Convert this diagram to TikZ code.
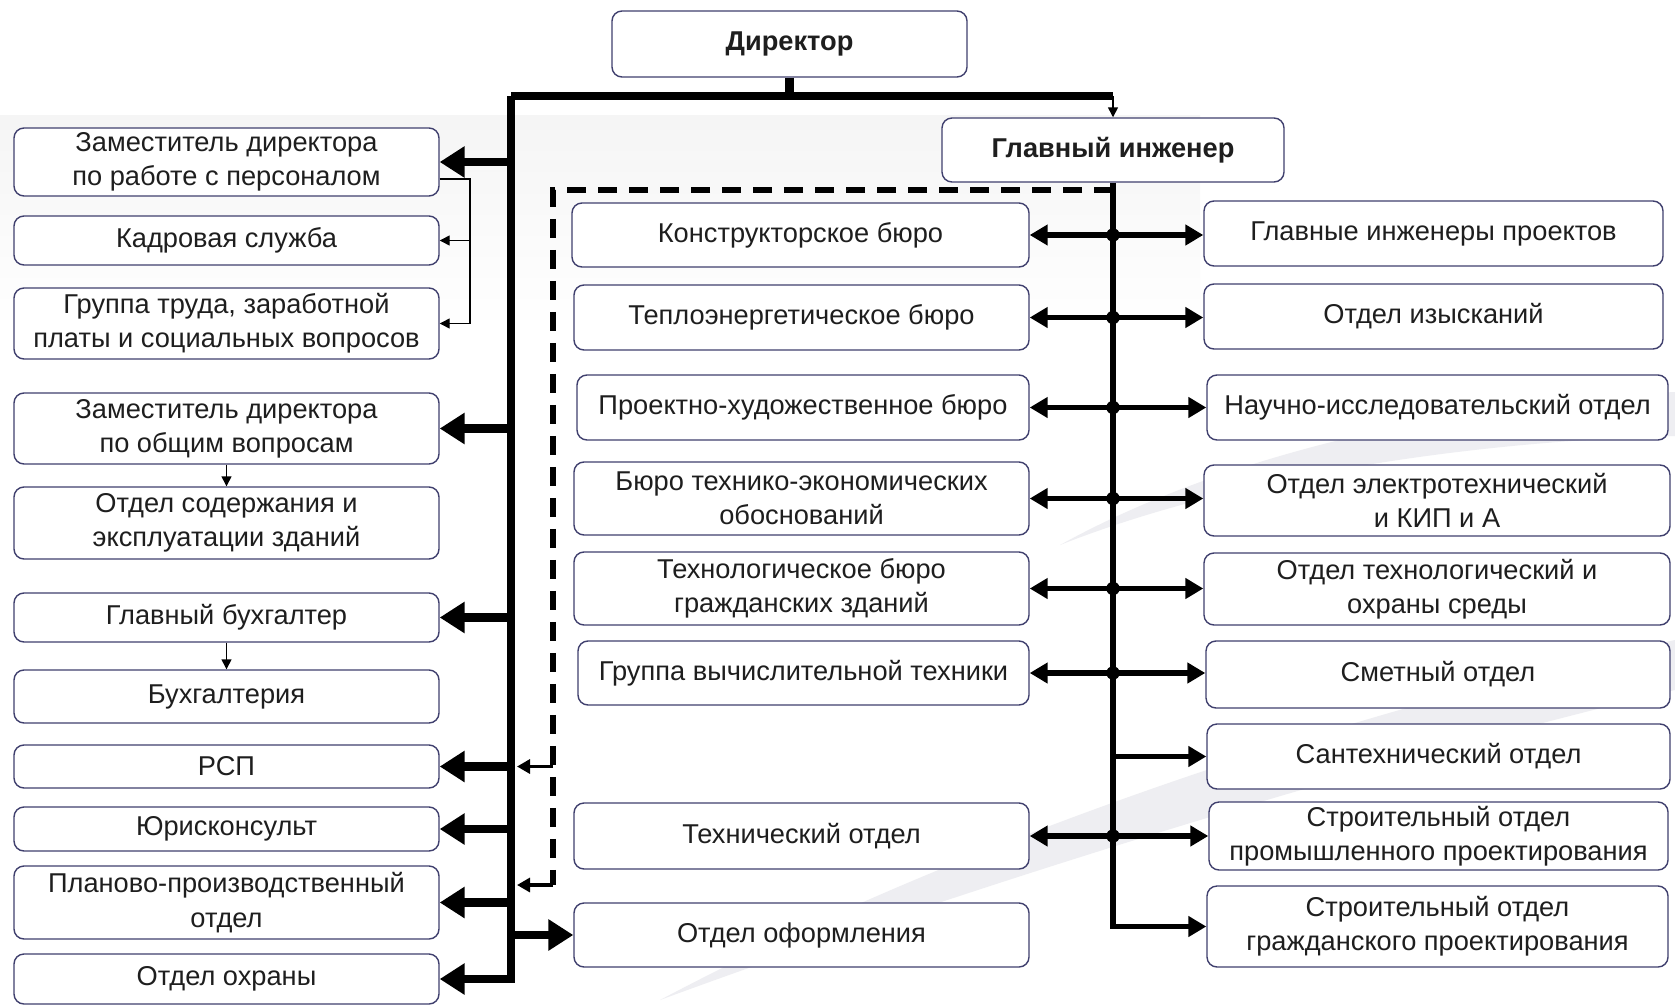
\documentclass[tikz,border=0pt]{standalone}
\usepackage{fontspec}
\setmainfont{Liberation Sans}
\usetikzlibrary{arrows.meta,calc}
\definecolor{boxline}{HTML}{40406E}
\definecolor{txt}{HTML}{1E1E1E}
\definecolor{swoosh}{HTML}{EEEEF2}
\tikzset{
  box/.style={draw=boxline, line width=0.8pt, rounded corners=0.2cm, fill=white,
    align=center, inner sep=0pt, text=txt, font=\fontsize{15.5}{19.5}\selectfont},
  dirbar/.style={line width=4.6pt},
  dirarr/.style={line width=4.6pt, -{Triangle[length=0.5cm,width=0.6cm]}},
  giarr/.style={line width=3.2pt, -{Triangle[length=0.36cm,width=0.4cm]}},
  thinarr/.style={line width=0.8pt, -{Triangle[length=0.2cm,width=0.2cm]}},
  dasharr/.style={line width=1.8pt, -{Triangle[length=0.26cm,width=0.28cm]}},
  dashline/.style={line width=3.2pt, dash pattern=on 0.38cm off 0.24cm},
  jdot/.style={circle, fill=black, inner sep=0pt, minimum size=0.27cm},
}
% box given by its corners in pixel units
\newcommand\obox[6]{%
  \pgfmathsetmacro\bw{(#4-#2)*0.02}\pgfmathsetmacro\bh{(#5-#3)*0.02}%
  \node[box, minimum width=\bw cm, minimum height=\bh cm] (#1) at ({(#2+#4)/2},{(#3+#5)/2}) {#6};}
% junction on the chief engineer's bar
\newcommand\both[3]{%
  \coordinate (#1) at (gi.south |- #2.east);
  \draw[giarr] (#1) -- (#2.east);
  \draw[giarr] (#1) -- (#1 -| #3.west);
  \node[jdot] at (#1) {};}
\begin{document}
\begin{tikzpicture}[x=0.02cm, y=-0.02cm]
\useasboundingbox (0,0) rectangle (1675,1007);
\fill[white] (0,0) rectangle (1675,1007);

% faint background swooshes
\shade[top color=gray!8, bottom color=white] (0,115) rectangle (1200,330);
\fill[swoosh] (660,1000) .. controls (1000,820) and (1400,700) .. (1675,640)
  -- (1675,690) .. controls (1400,755) and (1000,875) .. (660,1000) -- cycle;
\fill[swoosh] (1060,545) .. controls (1250,440) and (1500,400) .. (1675,392)
  -- (1675,436) .. controls (1500,440) and (1250,470) .. (1060,545) -- cycle;

% top
\obox{dir}{612}{11}{967}{77}{\textbf{Директор}}
\obox{gi}{942}{118}{1284}{182}{\textbf{Главный инженер}}

% left column
\obox{zp}{14}{128}{439}{196}{Заместитель директора\\по работе с персоналом}
\obox{kad}{14}{216}{439}{265}{Кадровая служба}
\obox{grt}{14}{288}{439}{359}{Группа труда, заработной\\платы и социальных вопросов}
\obox{zo}{14}{393}{439}{464}{Заместитель директора\\по общим вопросам}
\obox{sod}{14}{487}{439}{559}{Отдел содержания и\\эксплуатации зданий}
\obox{gb}{14}{593}{439}{642}{Главный бухгалтер}
\obox{buh}{14}{670}{439}{723}{Бухгалтерия}
\obox{rsp}{14}{745}{439}{788}{РСП}
\obox{yur}{14}{807}{439}{851}{Юрисконсульт}
\obox{ppo}{14}{866}{439}{939}{Планово-производственный\\отдел}
\obox{ohr}{14}{954}{439}{1004}{Отдел охраны}

% middle column
\obox{kb}{572}{203}{1029}{267}{Конструкторское бюро}
\obox{teb}{574}{285}{1029}{350}{Теплоэнергетическое бюро}
\obox{phb}{577}{375}{1029}{440}{Проектно-художественное бюро}
\obox{bte}{574}{462}{1029}{535}{Бюро технико-экономических\\обоснований}
\obox{tbg}{574}{552}{1029}{625}{Технологическое бюро\\гражданских зданий}
\obox{gvt}{578}{641}{1029}{705}{Группа вычислительной техники}
\obox{to}{574}{803}{1029}{869}{Технический отдел}
\obox{oo}{574}{903}{1029}{967}{Отдел оформления}

% right column
\obox{gip}{1204}{201}{1663}{266}{Главные инженеры проектов}
\obox{oi}{1204}{284}{1663}{349}{Отдел изысканий}
\obox{nio}{1207}{375}{1668}{440}{Научно-исследовательский отдел}
\obox{oet}{1204}{465}{1670}{536}{Отдел электротехнический\\и КИП и А}
\obox{otx}{1204}{553}{1670}{625}{Отдел технологический и\\охраны среды}
\obox{smt}{1206}{641}{1670}{708}{Сметный отдел}
\obox{snt}{1207}{724}{1670}{789}{Сантехнический отдел}
\obox{spp}{1209}{802}{1668}{870}{Строительный отдел\\промышленного проектирования}
\obox{sgp}{1207}{886}{1668}{967}{Строительный отдел\\гражданского проектирования}

% director's tree
\coordinate (tl) at (511,96);
\coordinate (tr) at (gi.north |- tl);
\draw[dirbar] (dir.south) -- (dir.south |- tl);
\draw[dirbar] (tl) -- (tr);
\draw[thinarr] (tr) -- (gi.north);
\draw[dirarr] (tl) |- (ohr.east);
\foreach \b in {zp,zo,gb,rsp,yur,ppo}
  \draw[dirarr] (tl |- \b.east) -- (\b.east);
\draw[dirarr] (tl |- oo.west) -- (oo.west);

% subordinate links in the left column
\coordinate (k1) at (470,179);
\draw[thinarr] (k1 -| zp.east) -- (k1) |- (grt.east);
\draw[thinarr] (k1 |- kad.east) -- (kad.east);
\draw[thinarr] (zo.south) -- (sod.north);
\draw[thinarr] (gb.south) -- (buh.north);

% dashed link from the chief engineer
\coordinate (d0) at (gi.south |- 0,190);
\coordinate (d1) at (553,190);
\coordinate (d2) at (553,885);
\draw[dashline] (d0) -- (d1) -- (d2);
\draw[dasharr] (d1 |- rsp.east) -- ($(tl |- rsp.east)+(6,0)$);
\draw[dasharr] (d2) -- ($(tl |- d2)+(6,0)$);

% chief engineer's tree
\draw[giarr] (gi.south) |- (sgp.west);
\both{j1}{kb}{gip}
\both{j2}{teb}{oi}
\both{j3}{phb}{nio}
\both{j4}{bte}{oet}
\both{j5}{tbg}{otx}
\both{j6}{gvt}{smt}
\both{j7}{to}{spp}
\draw[giarr] (gi.south |- snt.west) -- (snt.west);
\end{tikzpicture}
\end{document}
